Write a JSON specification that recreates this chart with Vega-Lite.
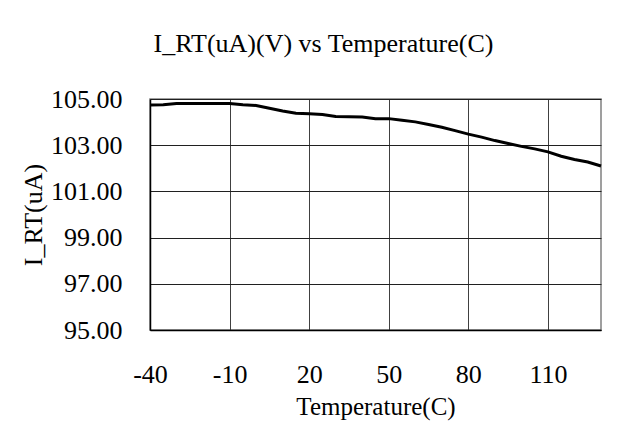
{
  "$schema": "https://vega.github.io/schema/vega-lite/v6.json",
  "width": 451,
  "height": 231,
  "autosize": {"type": "none"},
  "padding": {"left": 150, "top": 99, "right": 29, "bottom": 99},
  "background": "white",
  "title": {
    "text": "I_RT(uA)(V) vs Temperature(C)",
    "font": "Liberation Serif",
    "fontSize": 26,
    "fontWeight": "normal",
    "color": "black",
    "anchor": "middle",
    "dx": -52,
    "offset": 29
  },
  "data": {
    "values": [
      {"t": -40, "i": 104.74},
      {"t": -35, "i": 104.75},
      {"t": -30, "i": 104.80},
      {"t": -25, "i": 104.81},
      {"t": -20, "i": 104.81},
      {"t": -15, "i": 104.81},
      {"t": -10, "i": 104.80},
      {"t": -5, "i": 104.75},
      {"t": 0, "i": 104.72},
      {"t": 5, "i": 104.60},
      {"t": 10, "i": 104.48},
      {"t": 15, "i": 104.38},
      {"t": 20, "i": 104.36},
      {"t": 25, "i": 104.33},
      {"t": 30, "i": 104.24},
      {"t": 35, "i": 104.23},
      {"t": 40, "i": 104.22},
      {"t": 45, "i": 104.15},
      {"t": 50, "i": 104.15},
      {"t": 55, "i": 104.08},
      {"t": 60, "i": 104.01},
      {"t": 65, "i": 103.90},
      {"t": 70, "i": 103.78},
      {"t": 75, "i": 103.63},
      {"t": 80, "i": 103.48},
      {"t": 85, "i": 103.35},
      {"t": 90, "i": 103.20},
      {"t": 95, "i": 103.07},
      {"t": 100, "i": 102.95},
      {"t": 105, "i": 102.84},
      {"t": 110, "i": 102.71},
      {"t": 115, "i": 102.52},
      {"t": 120, "i": 102.38},
      {"t": 125, "i": 102.27},
      {"t": 130, "i": 102.10}
    ]
  },
  "mark": {"type": "line", "color": "black", "strokeWidth": 3},
  "encoding": {
    "x": {
      "field": "t",
      "type": "quantitative",
      "scale": {"domain": [-40, 130], "nice": false, "zero": false},
      "axis": {
        "title": "Temperature(C)",
        "titleFontSize": 25,
        "values": [-40, -10, 20, 50, 80, 110],
        "labelExpr": "'' + datum.value",
        "labelFlush": false,
        "labelOverlap": false,
        "ticks": false,
        "labelPadding": 31,
        "titlePadding": 7,
        "gridColor": "#404040",
        "gridOpacity": 1,
        "domainColor": "black",
        "domainWidth": 1.5
      }
    },
    "y": {
      "field": "i",
      "type": "quantitative",
      "scale": {"domain": [95, 105], "nice": false, "zero": false},
      "axis": {
        "title": "I_RT(uA)",
        "values": [95, 97, 99, 101, 103, 105],
        "format": ".2f",
        "labelFlush": false,
        "labelOverlap": false,
        "ticks": false,
        "labelPadding": 28,
        "titlePadding": 4,
        "gridColor": "#202020",
        "gridOpacity": 1,
        "domainColor": "black",
        "domainWidth": 1.5
      }
    }
  },
  "config": {
    "view": {"stroke": "#808080", "strokeWidth": 1.5},
    "axis": {
      "labelFont": "Liberation Serif",
      "labelFontSize": 26,
      "labelColor": "black",
      "titleFont": "Liberation Serif",
      "titleFontSize": 26,
      "titleFontWeight": "normal",
      "titleColor": "black",
      "grid": true,
      "gridWidth": 1
    }
  }
}
